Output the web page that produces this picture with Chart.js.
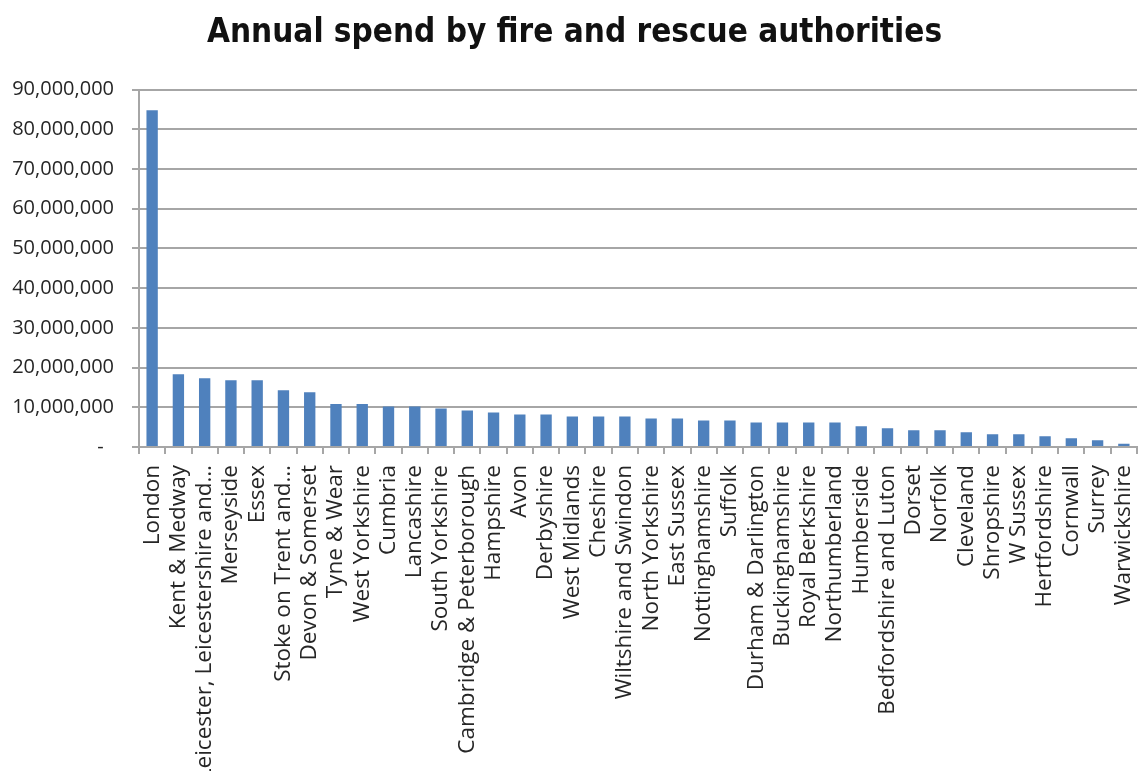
<!DOCTYPE html>
<html lang="en">
<head>
    <meta charset="UTF-8">
    <title>Annual spend by fire and rescue authorities</title>
    <script src="https://cdn.jsdelivr.net/npm/chart.js@4.4.0/dist/chart.umd.min.js"></script>
    <style>
        html, body { margin: 0; padding: 0; background: #ffffff; }
        .graph-container { width: 1138px; height: 771px; }
    </style>
</head>
<body>
    <div class="graph-container">
        <canvas id="myChart"></canvas>
    </div>

    <script>
        // authorities, largest spend first
        const authorities = [
            'London', 'Kent & Medway', 'Leicester, Leicestershire and…', 'Merseyside', 'Essex',
            'Stoke on Trent and…', 'Devon & Somerset', 'Tyne & Wear', 'West Yorkshire', 'Cumbria',
            'Lancashire', 'South Yorkshire', 'Cambridge & Peterborough', 'Hampshire', 'Avon',
            'Derbyshire', 'West Midlands', 'Cheshire', 'Wiltshire and Swindon', 'North Yorkshire',
            'East Sussex', 'Nottinghamshire', 'Suffolk', 'Durham & Darlington', 'Buckinghamshire',
            'Royal Berkshire', 'Northumberland', 'Humberside', 'Bedfordshire and Luton', 'Dorset',
            'Norfolk', 'Cleveland', 'Shropshire', 'W Sussex', 'Hertfordshire',
            'Cornwall', 'Surrey', 'Warwickshire'
        ];

        // annual spend (GBP)
        const annualSpend = [
            84800000, 18300000, 17300000, 16800000, 16800000,
            14300000, 13800000, 10800000, 10800000, 10200000,
            10200000, 9700000, 9200000, 8700000, 8200000,
            8200000, 7700000, 7700000, 7700000, 7200000,
            7200000, 6700000, 6700000, 6200000, 6200000,
            6200000, 6200000, 5200000, 4700000, 4200000,
            4200000, 3700000, 3200000, 3200000, 2700000,
            2200000, 1700000, 800000
        ];

        const yMax = 90000000;
        const yStep = 10000000;

        const gridGrey = '#a6a6a6';
        const textColour = '#262626';

        var ctx = document.getElementById('myChart').getContext('2d');

        function spendLabel(value) {
            if (value === 0) {
                return '-  ';
            }
            return Number(value).toLocaleString('en-US');
        }

        // long labels run off the bottom like in the original, so fix the axis height
        function fitCategoryAxis(scale) {
            scale.height = 324;
            scale.paddingLeft = 0;
            scale.paddingRight = 0;
        }

        function fitValueAxis(scale) {
            scale.width = 127;
        }

        var chart = new Chart(ctx, {
            type: 'bar',
            data: {
                labels: authorities,
                datasets: [{
                    label: 'Annual spend',
                    data: annualSpend,
                    backgroundColor: '#4f81bd',
                    borderWidth: 0,
                    barPercentage: 0.48,
                    categoryPercentage: 0.9
                }]
            },
            options: {
                responsive: true,
                maintainAspectRatio: false,
                animation: false,
                layout: {
                    padding: { left: 12, right: 1, top: 6, bottom: 0 }
                },
                plugins: {
                    legend: { display: false },
                    tooltip: { enabled: false },
                    title: {
                        display: true,
                        text: 'Annual spend by fire and rescue authorities',
                        color: '#111111',
                        font: {
                            family: "'Liberation Sans Narrow', 'DejaVu Sans Condensed', sans-serif",
                            size: 33,
                            weight: 'bold'
                        },
                        padding: { top: 8, bottom: 36 }
                    }
                },
                scales: {
                    x: {
                        afterFit: fitCategoryAxis,
                        grid: {
                            offset: true,
                            drawOnChartArea: false,
                            drawTicks: true,
                            tickLength: 7,
                            color: gridGrey,
                            lineWidth: 2
                        },
                        border: { color: gridGrey, width: 2 },
                        ticks: {
                            autoSkip: false,
                            minRotation: 90,
                            maxRotation: 90,
                            padding: 11,
                            color: textColour,
                            font: { family: "'Open Sans', sans-serif", size: 22.5 }
                        }
                    },
                    y: {
                        min: 0,
                        max: yMax,
                        afterFit: fitValueAxis,
                        grid: {
                            color: gridGrey,
                            lineWidth: 2,
                            tickLength: 7
                        },
                        border: { color: gridGrey, width: 2 },
                        ticks: {
                            stepSize: yStep,
                            padding: 18,
                            color: textColour,
                            font: { family: "'Open Sans', sans-serif", size: 20 },
                            callback: spendLabel
                        }
                    }
                }
            }
        });
    </script>
</body>
</html>
